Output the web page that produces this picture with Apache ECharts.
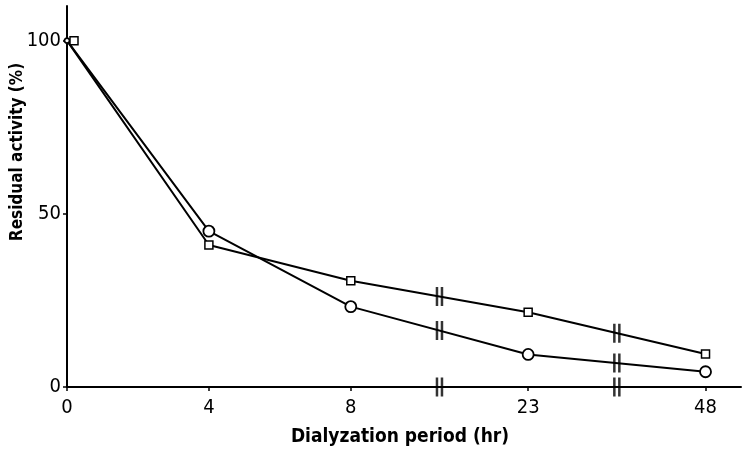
<!DOCTYPE html>
<html>
<head>
<meta charset="utf-8">
<script src="https://cdn.jsdelivr.net/npm/echarts@6/dist/echarts.min.js"></script>
<style>html,body{margin:0;padding:0;background:#fff}#c{width:747px;height:453px}</style>
</head>
<body>
<div id="c"></div>
<script>
// Tick labels (hours) and their place on the broken x axis
var hourLabels = ['0', '4', '8', '23', '48'];
var xAxisPos = [0, 1, 2, 3.25, 4.5];
// Residual activity (%)
var circleVals = [100, 45, 23.2, 9.4, 4.4];
var squareVals = [100, 41, 30.7, 21.6, 9.5];
// Axis break locations (between 8 and 23, and between 23 and 48)
var breakPos = [2.625, 3.875];
var yTicks = [0, 50, 100];

function pairs(vals) { return vals.map(function (v, i) { return [xAxisPos[i], v]; }); }
function interp(vals, x) {
  for (var i = 0; i < xAxisPos.length - 1; i++) {
    if (x >= xAxisPos[i] && x <= xAxisPos[i + 1]) {
      var t = (x - xAxisPos[i]) / (xAxisPos[i + 1] - xAxisPos[i]);
      return vals[i] + t * (vals[i + 1] - vals[i]);
    }
  }
  return null;
}
var breakData = [];
breakPos.forEach(function (b) {
  breakData.push([b, interp(circleVals, b)]);
  breakData.push([b, interp(squareVals, b)]);
  breakData.push([b, 0]);
});

var FONT = 'DejaVu Sans Condensed, DejaVu Sans, sans-serif';
var chart = echarts.init(document.getElementById('c'), null, { renderer: 'canvas' });
var circleData = pairs(circleVals).map(function (p, i) {
  return i === 0 ? { value: p, symbolSize: 5 } : p;
});
var squareData = pairs(squareVals).map(function (p, i) {
  return i === 0 ? { value: p, symbolOffset: [7, 0] } : p;
});
chart.setOption({
  animation: false,
  backgroundColor: '#fff',
  grid: { left: 67, right: 6, top: 6, bottom: 66 },
  xAxis: {
    type: 'value', min: 0, max: 4.75,
    axisLine: { lineStyle: { color: '#000', width: 2 } },
    axisTick: { customValues: xAxisPos, length: 4, lineStyle: { color: '#000', width: 1.5 } },
    axisLabel: {
      customValues: xAxisPos, color: '#000', fontSize: 20, fontFamily: FONT, margin: 11,
      formatter: function (v) { var i = xAxisPos.indexOf(v); return i >= 0 ? hourLabels[i] : ''; }
    },
    splitLine: { show: false }
  },
  yAxis: {
    type: 'value', min: 0, max: 110,
    axisLine: { show: true, lineStyle: { color: '#000', width: 2 } },
    axisTick: { show: true, customValues: yTicks, length: 4, lineStyle: { color: '#000', width: 1.5 } },
    axisLabel: { customValues: yTicks, color: '#000', fontSize: 20, fontFamily: FONT, margin: 6 },
    splitLine: { show: false }
  },
  graphic: [
    { type: 'text', x: 18, y: 152, rotation: Math.PI / 2,
      style: { text: 'Residual activity (%)', fill: '#000', font: 'bold 17px ' + FONT, align: 'center', verticalAlign: 'middle' } },
    { type: 'text', x: 400, y: 437,
      style: { text: 'Dialyzation period (hr)', fill: '#000', font: 'bold 19px ' + FONT, align: 'center', verticalAlign: 'middle' } }
  ],
  series: [
    { type: 'line', data: circleData, symbol: 'circle', symbolSize: 11,
      lineStyle: { color: '#000', width: 2 }, itemStyle: { color: '#fff', borderColor: '#000', borderWidth: 1.8 }, z: 3 },
    { type: 'line', data: squareData, symbol: 'rect', symbolSize: 8,
      lineStyle: { color: '#000', width: 2 }, itemStyle: { color: '#fff', borderColor: '#000', borderWidth: 1.5 }, z: 3 },
    { type: 'scatter', data: breakData, symbol: 'path://M0,0h2.5v19h-2.5z M5,0h2.5v19h-2.5z', symbolSize: [7.5, 19],
      itemStyle: { color: '#000' }, z: 4, silent: true }
  ]
});
</script>
</body>
</html>
